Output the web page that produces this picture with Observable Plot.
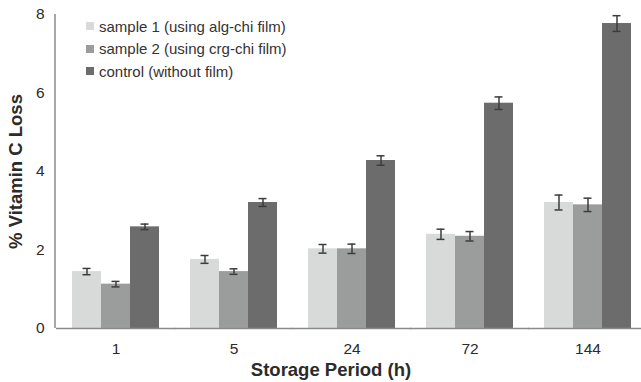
<!DOCTYPE html>
<html>
<head>
<meta charset="utf-8">
<script src="https://cdn.jsdelivr.net/npm/d3@7"></script>
<script src="https://cdn.jsdelivr.net/npm/@observablehq/plot@0.6"></script>
<style>
  body { margin: 0; background: #fff; }
  #wrap { position: relative; width: 641px; height: 382px; font-family: "Liberation Sans", Arial, sans-serif; }
  #legend { position: absolute; left: 86px; top: 15px; font-size: 15px; color: #333; }
  #legend .row { height: 22.5px; display: flex; align-items: center; }
  #legend .sw { width: 8px; height: 8px; margin-right: 5px; }
  g[aria-label$="axis label"] { font-weight: bold; font-size: 18.5px; fill: #2b2b2b; }
</style>
</head>
<body>
<div id="wrap"><div id="legend"></div></div>
<script>
const periods = ["1", "5", "24", "72", "144"];
const series = ["sample 1 (using alg-chi film)", "sample 2 (using crg-chi film)", "control (without film)"];
const sample1 = [1.45, 1.76, 2.03, 2.40, 3.21];
const sample1Err = [0.08, 0.10, 0.11, 0.13, 0.19];
const sample2 = [1.13, 1.45, 2.03, 2.35, 3.15];
const sample2Err = [0.07, 0.07, 0.12, 0.12, 0.17];
const control = [2.59, 3.21, 4.28, 5.74, 7.77];
const controlErr = [0.07, 0.10, 0.12, 0.16, 0.20];
const yTicks = [0, 2, 4, 6, 8];
const colors = ["#d8d9d9", "#9b9c9c", "#6c6c6c"];

const values = [sample1, sample2, control];
const errors = [sample1Err, sample2Err, controlErr];
const data = [];
periods.forEach((p, i) => series.forEach((s, j) => data.push({period: p, series: s, v: values[j][i], e: errors[j][i]})));

const plot = Plot.plot({
  width: 641,
  height: 382,
  marginTop: 14,
  marginBottom: 54,
  marginLeft: 55,
  marginRight: -7,
  style: {fontFamily: "'Liberation Sans', Arial, sans-serif", fontSize: "15.5px", color: "#2b2b2b", background: "transparent"},
  fx: {domain: periods, paddingInner: 0.25, paddingOuter: 0.125, label: "Storage Period (h)", labelAnchor: "center", labelOffset: 47, tickSize: 0, tickPadding: 14, axis: "bottom"},
  x: {domain: series, padding: 0, axis: null},
  y: {domain: [0, 8], ticks: yTicks, tickSize: 0, tickPadding: 27, label: "% Vitamin C Loss", labelAnchor: "center", labelOffset: 63, labelArrow: "none"},
  color: {domain: series, range: colors},
  marks: [
    Plot.barY(data, {fx: "period", x: "series", y: "v", fill: "series"}),
    Plot.ruleX(data, {fx: "period", x: "series", y1: d => d.v - d.e, y2: d => d.v + d.e, stroke: "#3c3c3c", strokeWidth: 1.5}),
    Plot.tickY(data, {fx: "period", x: "series", y: d => d.v - d.e, stroke: "#3c3c3c", strokeWidth: 1.5, insetLeft: 10.5, insetRight: 10.5}),
    Plot.tickY(data, {fx: "period", x: "series", y: d => d.v + d.e, stroke: "#3c3c3c", strokeWidth: 1.5, insetLeft: 10.5, insetRight: 10.5}),
    Plot.ruleY([0], {stroke: "#8a8a8a", strokeWidth: 1.5, insetLeft: -15, insetRight: -15})
  ]
});

const yScale = plot.scale("y");
d3.select(plot).append("line")
  .attr("x1", 55).attr("x2", 55)
  .attr("y1", yScale.apply(8)).attr("y2", yScale.apply(0))
  .attr("stroke", "#8a8a8a").attr("stroke-width", 1.5);
d3.select(plot).select('g[aria-label="fx-axis label"] text').attr("dx", -21);
d3.select(plot).select('g[aria-label="y-axis label"] text').text("% Vitamin C Loss");

const wrap = document.getElementById("wrap");
wrap.insertBefore(plot, wrap.firstChild);
plot.style.position = "absolute";
plot.style.left = "0";
plot.style.top = "0";

const legend = d3.select("#legend");
series.forEach((s, j) => {
  const row = legend.append("div").attr("class", "row");
  row.append("div").attr("class", "sw").style("background", colors[j]);
  row.append("span").text(s);
});
</script>
</body>
</html>
